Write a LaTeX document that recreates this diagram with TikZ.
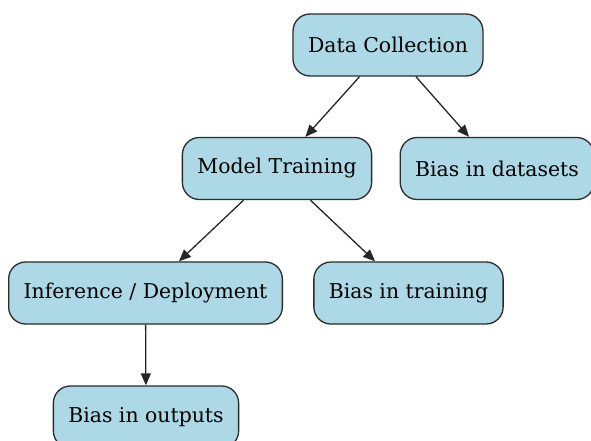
\documentclass[tikz,border=0pt]{standalone}
\usepackage{fontspec}
\setmainfont{DejaVu Serif}
\usetikzlibrary{arrows.meta}
\usetikzlibrary{positioning}

\definecolor{boxfill}{HTML}{ADD8E6}
\definecolor{boxline}{HTML}{2B2B2B}

\tikzset{
  stage/.style={draw=boxline, fill=boxfill, line width=1.3pt, rounded corners=17pt,
    minimum height=62pt, inner xsep=15pt, font=\fontsize{20.4}{24}\selectfont},
  flow/.style={draw=black!85, line width=1.3pt, -{Triangle[length=12pt,width=10pt]}}
}

\begin{document}
\begin{tikzpicture}[x=1pt,y=-1pt]
\useasboundingbox (0,0) rectangle (591,441);
% pipeline stages
\node[stage] (collect) at (388,45) {Data Collection};
\node[stage] (train) at (277,168.5) {Model Training};
\node[stage] (infer) at (145.5,293) {Inference / Deployment};
% where bias creeps in
\node[stage] (dsbias) at (497,168.5) {Bias in datasets};
\node[stage] (trbias) at (408.5,293) {Bias in training};
\node[stage] (outbias) at (146,417) {Bias in outputs};

\draw[flow] (collect) -- (train);
\draw[flow] (collect) -- (dsbias);
\draw[flow] (train) -- (infer);
\draw[flow] (train) -- (trbias);
\draw[flow] (infer) -- (outbias);
\end{tikzpicture}
\end{document}
